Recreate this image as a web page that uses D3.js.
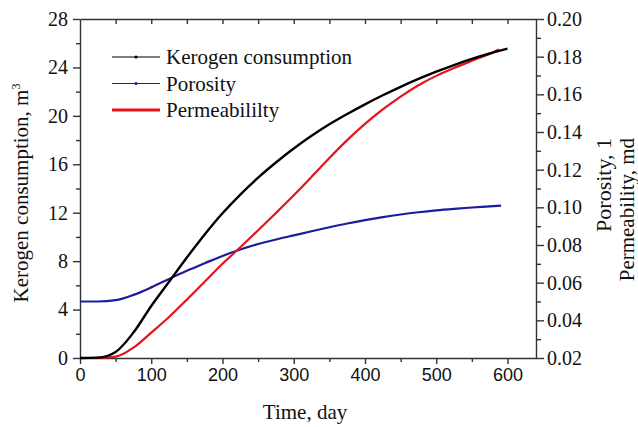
<!DOCTYPE html>
<html>
<head>
<meta charset="utf-8">
<script src="https://cdn.jsdelivr.net/npm/d3@7"></script>
<style>
  body { margin: 0; background: #fff; }
  .domain, .tick line { stroke: #333; stroke-width: 1.4; }
</style>
</head>
<body>
<div id="wrapper"></div>
<script>
// kerogen consumption, m3 (left axis)
const keroDays = [0, 25, 50, 75, 100, 125, 150, 175, 200, 225, 250, 275, 300, 325, 350, 375, 400, 425, 450, 475, 500, 525, 550, 575, 600]
const keroValues = [0, 0.03, 0.5, 2.1, 4.3, 6.3, 8.3, 10.2, 11.95, 13.5, 14.9, 16.15, 17.3, 18.35, 19.3, 20.15, 20.95, 21.7, 22.4, 23.05, 23.65, 24.2, 24.7, 25.15, 25.55]

// porosity, 1 (right axis)
const poroDays = [0, 25, 50, 75, 100, 125, 150, 175, 200, 225, 250, 275, 300, 325, 350, 375, 400, 425, 450, 475, 500, 525, 550, 575, 591]
const poroValues = [0.0500, 0.0500, 0.0507, 0.0535, 0.0575, 0.0620, 0.0663, 0.0703, 0.0742, 0.0776, 0.0805, 0.0829, 0.0851, 0.0873, 0.0894, 0.0914, 0.0932, 0.0948, 0.0962, 0.0974, 0.0984, 0.0992, 0.0999, 0.1005, 0.1009]

// permeability, md (right axis)
const permDays = [0, 25, 50, 75, 100, 125, 150, 175, 200, 225, 250, 275, 300, 325, 350, 375, 400, 425, 450, 475, 500, 525, 550, 575, 588]
const permValues = [0.0200, 0.0201, 0.0207, 0.0255, 0.0335, 0.0418, 0.0510, 0.0605, 0.0700, 0.0788, 0.0878, 0.0970, 0.1064, 0.1162, 0.1262, 0.1357, 0.1443, 0.1520, 0.1588, 0.1648, 0.1698, 0.1740, 0.1778, 0.1815, 0.1838]

const xTicks = [0, 100, 200, 300, 400, 500, 600]
const xMinorTicks = [50, 150, 250, 350, 450, 550]
const leftTicks = [0, 4, 8, 12, 16, 20, 24, 28]
const leftMinorTicks = [2, 6, 10, 14, 18, 22, 26]
const rightTicks = [0.02, 0.04, 0.06, 0.08, 0.10, 0.12, 0.14, 0.16, 0.18, 0.20]
const rightMinorTicks = [0.03, 0.05, 0.07, 0.09, 0.11, 0.13, 0.15, 0.17, 0.19]

const legendLabels = ["Kerogen consumption", "Porosity", "Permeabililty"]
const seriesColors = ["#000000", "#1c1c9c", "#e3151a"]

const serifFont = "'Liberation Serif', Tinos, 'Times New Roman', Times, 'Nimbus Roman', 'FreeSerif', 'Noto Serif', 'DejaVu Serif', serif"
const sansFont = "'Liberation Sans', Arial, sans-serif"

const dimensions = {
  width: 638,
  height: 427,
  margin: { top: 19, right: 102, bottom: 69, left: 80 },
}
dimensions.boundedWidth = dimensions.width - dimensions.margin.left - dimensions.margin.right
dimensions.boundedHeight = dimensions.height - dimensions.margin.top - dimensions.margin.bottom

const wrapper = d3.select("#wrapper")
  .append("svg")
  .attr("width", dimensions.width)
  .attr("height", dimensions.height)

const bounds = wrapper.append("g")
  .attr("transform", `translate(${dimensions.margin.left},${dimensions.margin.top})`)

const xScale = d3.scaleLinear()
  .domain([0, 640])
  .range([0, dimensions.boundedWidth])

const yLeft = d3.scaleLinear()
  .domain([0, 28])
  .range([dimensions.boundedHeight, 0])

const yRight = d3.scaleLinear()
  .domain([0.02, 0.20])
  .range([dimensions.boundedHeight, 0])

// axes
const xAxis = bounds.append("g")
  .attr("transform", `translate(0,${dimensions.boundedHeight})`)
  .call(d3.axisBottom(xScale).tickValues(xTicks).tickSize(6).tickPadding(4).tickSizeOuter(0))
xAxis.selectAll("text")
  .style("font-family", sansFont)
  .style("font-size", "18px")
  .style("fill", "#111")

bounds.append("g")
  .attr("transform", `translate(0,${dimensions.boundedHeight})`)
  .call(d3.axisBottom(xScale).tickValues(xMinorTicks).tickSize(4).tickFormat("").tickSizeOuter(0))
  .select(".domain").remove()

// top edge, ticks pointing inward
bounds.append("g")
  .call(d3.axisTop(xScale).tickValues(xTicks.concat(xMinorTicks).filter(d => d > 0)).tickSize(-5).tickFormat("").tickSizeOuter(0))

const leftAxis = bounds.append("g")
  .call(d3.axisLeft(yLeft).tickValues(leftTicks).tickSize(7).tickPadding(5).tickSizeOuter(0))
leftAxis.selectAll("text")
  .style("font-family", serifFont)
  .style("font-size", "20px")
  .style("fill", "#111")

bounds.append("g")
  .call(d3.axisLeft(yLeft).tickValues(leftMinorTicks).tickSize(4).tickFormat("").tickSizeOuter(0))
  .select(".domain").remove()

const rightAxis = bounds.append("g")
  .attr("transform", `translate(${dimensions.boundedWidth},0)`)
  .call(d3.axisRight(yRight).tickValues(rightTicks).tickSize(8).tickPadding(3).tickFormat(d3.format(".2f")).tickSizeOuter(0))
rightAxis.selectAll("text")
  .style("font-family", serifFont)
  .style("font-size", "20px")
  .style("fill", "#111")

bounds.append("g")
  .attr("transform", `translate(${dimensions.boundedWidth},0)`)
  .call(d3.axisRight(yRight).tickValues(rightMinorTicks).tickSize(5).tickFormat("").tickSizeOuter(0))
  .select(".domain").remove()

// lines
const keroLine = d3.line()
  .x((d, i) => xScale(keroDays[i]))
  .y(d => yLeft(d))
  .curve(d3.curveMonotoneX)

const poroLine = d3.line()
  .x((d, i) => xScale(poroDays[i]))
  .y(d => yRight(d))
  .curve(d3.curveMonotoneX)

const permLine = d3.line()
  .x((d, i) => xScale(permDays[i]))
  .y(d => yRight(d))
  .curve(d3.curveMonotoneX)

bounds.append("path")
  .attr("d", poroLine(poroValues))
  .attr("fill", "none")
  .attr("stroke", seriesColors[1])
  .attr("stroke-width", 2.2)

bounds.append("path")
  .attr("d", permLine(permValues))
  .attr("fill", "none")
  .attr("stroke", seriesColors[2])
  .attr("stroke-width", 2.2)

bounds.append("path")
  .attr("d", keroLine(keroValues))
  .attr("fill", "none")
  .attr("stroke", seriesColors[0])
  .attr("stroke-width", 2.4)

// legend
const legendGroup = wrapper.append("g")
  .attr("transform", "translate(112, 57)")

const legendItems = legendGroup.selectAll("g")
  .data(legendLabels)
  .enter().append("g")
  .attr("transform", (d, i) => `translate(0, ${i * 26.5})`)

legendItems.append("line")
  .attr("x1", 0)
  .attr("x2", 48)
  .attr("stroke", (d, i) => seriesColors[i])
  .attr("stroke-width", (d, i) => i == 2 ? 3 : 1.1)

legendItems.filter((d, i) => i < 2)
  .append("circle")
  .attr("cx", 24)
  .attr("r", 1.6)
  .attr("fill", (d, i) => seriesColors[i])

legendItems.append("text")
  .attr("x", 54)
  .attr("y", 7)
  .style("font-family", serifFont)
  .style("font-size", "21px")
  .style("fill", "#111")
  .text(d => d)

// axis titles
const titleStyle = sel => sel
  .style("font-family", serifFont)
  .style("font-size", "21px")
  .style("fill", "#111")

wrapper.append("text")
  .attr("x", 305)
  .attr("y", 419)
  .attr("text-anchor", "middle")
  .call(titleStyle)
  .text("Time, day")

const leftTitle = wrapper.append("text")
  .attr("transform", "translate(28, 193) rotate(-90)")
  .attr("text-anchor", "middle")
  .call(titleStyle)
leftTitle.append("tspan").text("Kerogen consumption, m")
leftTitle.append("tspan")
  .style("font-size", "12px")
  .attr("dy", -8)
  .text("3")

wrapper.append("text")
  .attr("transform", "translate(611, 138) rotate(-90)")
  .attr("text-anchor", "end")
  .call(titleStyle)
  .style("font-size", "22px")
  .text("Porosity, 1")

wrapper.append("text")
  .attr("transform", "translate(634, 138) rotate(-90)")
  .attr("text-anchor", "end")
  .call(titleStyle)
  .style("font-size", "21px")
  .text("Permeability, md")
</script>
</body>
</html>
